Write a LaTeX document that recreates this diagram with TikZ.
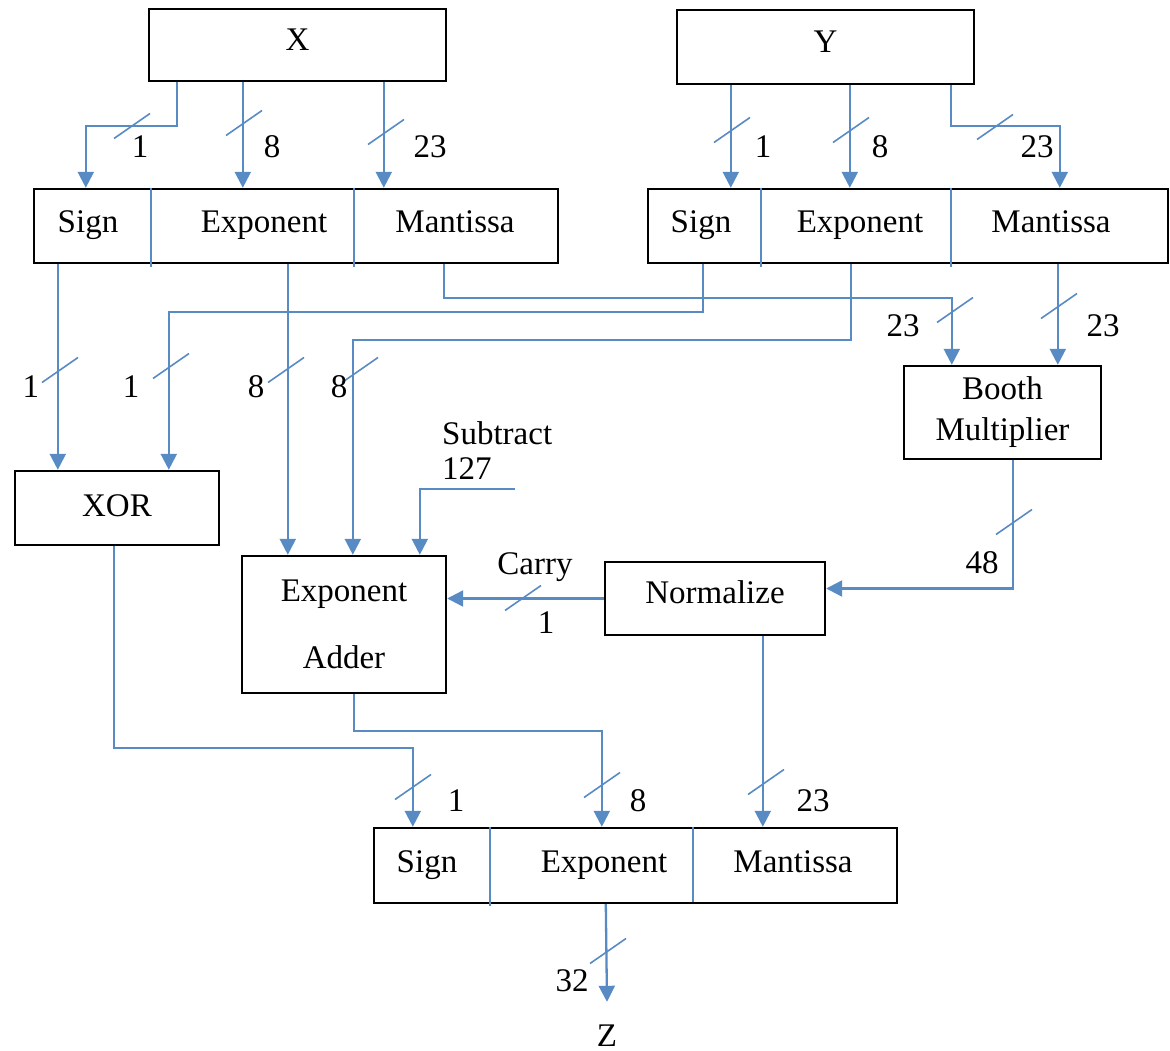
\documentclass[tikz,border=0pt]{standalone}
\usepackage{fontspec}
\setmainfont{Liberation Serif}
\usetikzlibrary{arrows.meta,calc}
\definecolor{wirec}{RGB}{88,138,196}
\begin{document}
\begin{tikzpicture}[x=1pt,y=-1pt,
  box/.style={draw=black,line width=2.4pt,inner sep=0pt,align=center,font=\fontsize{33}{38}\selectfont},
  lbl/.style={inner sep=0pt,text height=22pt,text depth=0pt,font=\fontsize{33}{38}\selectfont},
  wire/.style={draw=wirec,line width=2.3pt},
  arr/.style={wire,-{Triangle[width=16pt,length=16pt]}},
  busmark/.style={draw=wirec,line width=1.6pt},
  divider/.style={draw=wirec,line width=1.5pt}]
\useasboundingbox (0,0) rectangle (1170,1051);

% input boxes
\node[box,minimum width=297pt,minimum height=72pt,text height=22pt,text depth=10pt] (X) at (297.5,45) {X};
\node[box,minimum width=297pt,minimum height=74pt,text height=22pt,text depth=10pt] (Y) at (825.5,47) {Y};

% field boxes
\node[box,minimum width=524pt,minimum height=74pt] (XF) at (296,226) {};
\node[box,minimum width=520pt,minimum height=74pt] (YF) at (908,226) {};
\node[box,minimum width=523pt,minimum height=75pt] (ZF) at (635.5,865.5) {};

\node[lbl] (xs) at (88,222) {Sign};
\node[lbl] (xe) at (264,222) {Exponent};
\node[lbl] (xm) at (455,222) {Mantissa};
\node[lbl] (ys) at (701,222) {Sign};
\node[lbl] (ye) at (860,222) {Exponent};
\node[lbl] (ym) at (1051,222) {Mantissa};
\node[lbl] (zs) at (427,861) {Sign};
\node[lbl] (ze) at (604,861) {Exponent};
\node[lbl] (zm) at (793,861) {Mantissa};

\draw[divider] ([xshift=118pt]XF.north west) -- ++(0,79);
\draw[divider] ([xshift=321pt]XF.north west) -- ++(0,79);
\draw[divider] ([xshift=114pt]YF.north west) -- ++(0,79);
\draw[divider] ([xshift=304pt]YF.north west) -- ++(0,79);
\draw[divider] ([xshift=117pt]ZF.north west) -- ++(0,79);
\draw[divider] ([xshift=320pt]ZF.north west) -- ++(0,75);

% processing boxes
\node[box,minimum width=204pt,minimum height=74pt,text height=22pt,text depth=6pt] (XOR) at (117,508) {XOR};
\node[box,minimum width=204pt,minimum height=137pt,font=\fontsize{33}{67}\selectfont] (ADD) at (344,624.5) {Exponent\\Adder};
\node[box,minimum width=197pt,minimum height=93pt,font=\fontsize{33}{41}\selectfont] (BOOTH) at (1002.5,412.5) {Booth\\Multiplier};
\node[box,minimum width=220pt,minimum height=73pt,text height=22pt,text depth=12pt] (NORM) at (715,598.5) {Normalize};

% X -> fields
\draw[arr] ([xshift=29pt]X.south west) -- ++(0,44) -| ([xshift=53pt]XF.north west);
\draw[arr] ([xshift=95pt]X.south west) coordinate (t1) -- (t1 |- XF.north);
\draw[arr] ([xshift=236pt]X.south west) coordinate (t2) -- (t2 |- XF.north);
% Y -> fields
\draw[arr] ([xshift=55pt]Y.south west) coordinate (t3) -- (t3 |- YF.north);
\draw[arr] ([xshift=174pt]Y.south west) coordinate (t4) -- (t4 |- YF.north);
\draw[arr] ([xshift=275pt]Y.south west) -- ++(0,41) -| ([xshift=413pt]YF.north west);

% fields -> XOR / adder / booth
\draw[arr] ([xshift=25pt]XF.south west) coordinate (t5) -- (t5 |- XOR.north);
\draw[arr] ([xshift=56pt]YF.south west) -- ++(0,48) -| ([xshift=155pt]XOR.north west);
\draw[arr] ([xshift=255pt]XF.south west) coordinate (t6) -- (t6 |- ADD.north);
\draw[arr] ([xshift=204pt]YF.south west) -- ++(0,76) -| ([xshift=112pt]ADD.north west);
\draw[arr] ([xshift=411pt]XF.south west) -- ++(0,34) -| ([xshift=49pt]BOOTH.north west);
\draw[arr] ([xshift=411pt]YF.south west) coordinate (t7) -- (t7 |- BOOTH.north);

% subtract 127
\node[lbl,text height=,text depth=,anchor=west,align=left,font=\fontsize{33}{35}\selectfont] (subl) at (442,450.5) {Subtract\\127};
\coordinate (sub) at (515,489);
\draw[arr] (sub) -| ([xshift=179pt]ADD.north west);

% booth -> normalize, normalize -> adder
\draw[arr] ([xshift=110pt]BOOTH.south west) |- ([yshift=10pt]NORM.east);
\draw[arr] (NORM.west) -- (NORM.west -| ADD.east);

% to Z fields
\draw[arr] ([xshift=100pt]XOR.south west) -- ++(0,202) -| ([xshift=40pt]ZF.north west);
\draw[arr] ([xshift=113pt]ADD.south west) -- ++(0,37) -| ([xshift=229pt]ZF.north west);
\draw[arr] ([xshift=159pt]NORM.south west) coordinate (t8) -- (t8 |- ZF.north);

\node[lbl] (Z) at (607,1035) {Z};
\draw[arr] ([xshift=233pt]ZF.south west) -- ([yshift=22pt]Z.north);

% bus marks
\foreach \p in {(132,126),(244,123),(386,132),(732,130),(851,130),(995,127),
  (60,370),(171,366),(286,370),(360,370),(955,310),(1059,306),(1014,522),
  (523,598),(413,787),(602,785),(766,782),(608,951)}
  \draw[busmark] \p ++(-18,12.5) -- ++(36,-25);

% width labels
\node[lbl] (l1) at (140,147) {1};
\node[lbl] (l2) at (272,147) {8};
\node[lbl] (l3) at (430,147) {23};
\node[lbl] (l4) at (763,147) {1};
\node[lbl] (l5) at (880,147) {8};
\node[lbl] (l6) at (1037,147) {23};
\node[lbl] (l7) at (31,386) {1};
\node[lbl] (l8) at (131,386) {1};
\node[lbl] (l9) at (256,386) {8};
\node[lbl] (l10) at (339,386) {8};
\node[lbl] (l11) at (903,325) {23};
\node[lbl] (l12) at (1103,325) {23};
\node[lbl] (l13) at (982,562) {48};
\node[lbl] (carry) at (535,563) {Carry};
\node[lbl] (l14) at (546,622) {1};
\node[lbl] (l15) at (456,800) {1};
\node[lbl] (l16) at (638,800) {8};
\node[lbl] (l17) at (813,800) {23};
\node[lbl] (l18) at (572,980) {32};
\end{tikzpicture}
\end{document}
